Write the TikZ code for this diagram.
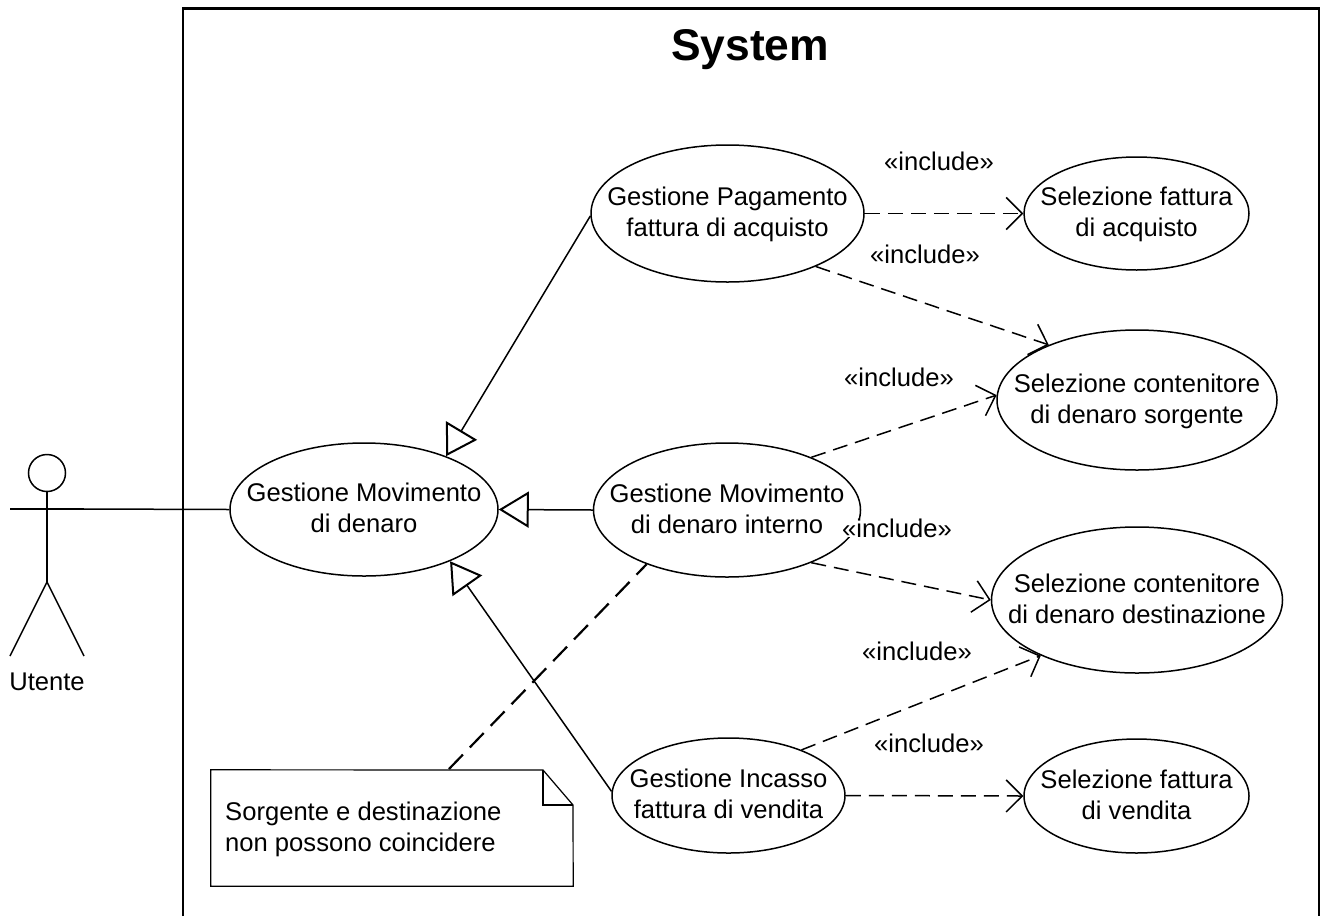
\documentclass[tikz,border=0pt]{standalone}
\usepackage{fontspec}
\setmainfont{Liberation Sans}
\usetikzlibrary{arrows.meta,shapes.geometric}
\newcommand\uctext[1]{\raisebox{-8pt}[0pt][0pt]{\makebox[0pt][c]{\begin{tabular}{@{}c@{}}#1\end{tabular}}}}
\tikzset{
  usecase/.style={draw=black,line width=1.5pt,ellipse,inner sep=0pt,font=\fontsize{25.6}{31}\selectfont},
  gen/.style={line width=1.5pt,-{Triangle[open,length=30pt,width=36pt,line width=2pt,fill=white]}},
  incl/.style={line width=1.5pt,dash pattern=on 15pt off 8pt,-{Straight Barb[length=16pt,width=32pt,line width=1.5pt]}},
  stereo/.style={font=\fontsize{25.6}{31}\selectfont,inner sep=0pt,fill=white},
  notelink/.style={line width=2.2pt,dash pattern=on 20pt off 10pt},
  notebody/.style={line width=1.2pt},
  stick/.style={line width=1.5pt}
}
\begin{document}
\begin{tikzpicture}[x=1pt,y=-1pt]
\useasboundingbox (0,0) rectangle (1324,916);
% System boundary
\coordinate (bl) at (183,916);
\coordinate (tl) at (183,8.5);
\coordinate (tr) at (1319,8.5);
\coordinate (br) at (1319,916);
\draw[line width=2.5pt] (bl) -- (tl) -- (tr) -- (br);
\node[font=\bfseries\fontsize{44.4}{50}\selectfont,inner sep=0pt] (title) at (750,50) {System};
% Use cases
\node[usecase,minimum width=268pt,minimum height=133pt] (gmd) at (364,509.5) {\uctext{Gestione Movimento\\di denaro}};
\node[usecase,minimum width=273pt,minimum height=137pt] (gp) at (727.5,213.5) {\uctext{Gestione Pagamento\\fattura di acquisto}};
\node[usecase,minimum width=225pt,minimum height=113pt] (sfa) at (1136.5,213.5) {\uctext{Selezione fattura\\di acquisto}};
\node[usecase,minimum width=280pt,minimum height=140pt] (scs) at (1137,400) {\uctext{Selezione contenitore\\di denaro sorgente}};
\node[usecase,minimum width=267pt,minimum height=134pt] (gmi) at (727,510) {\uctext{Gestione Movimento\\di denaro interno}};
\node[usecase,minimum width=291pt,minimum height=146pt] (scd) at (1137,600) {\uctext{Selezione contenitore\\di denaro destinazione}};
\node[usecase,minimum width=233pt,minimum height=115pt] (gi) at (728.5,795.5) {\uctext{Gestione Incasso\\fattura di vendita}};
\node[usecase,minimum width=225pt,minimum height=114pt] (sfv) at (1136.5,796) {\uctext{Selezione fattura\\di vendita}};
% Actor
\node[draw=black,stick,circle,minimum size=37pt,inner sep=0pt] (head) at (47,473) {};
\coordinate (hip) at (47,582);
\coordinate (larm) at (10,509);
\coordinate (rarm) at (84,509);
\coordinate (lfoot) at (10,656);
\coordinate (rfoot) at (84,656);
\draw[stick] (head.south) -- (hip);
\draw[stick] (lfoot) -- (hip) -- (rfoot);
\draw[stick] (larm) -- (rarm);
\node[font=\fontsize{25.6}{31}\selectfont,inner sep=0pt] (utente) at (47,682) {Utente};
\draw[stick] (rarm) -- (gmd.west);
% Generalizations
\draw[gen] (gp.181) -- (gmd.33);
\draw[gen] (gmi.west) -- (gmd.east);
\draw[gen] (gi.178) -- (gmd.-31);
% Includes
\draw[incl] (gp.east) -- (sfa.west);
\draw[incl] (gp.-31) -- (scs.148);
\draw[incl] (gmi.32) -- (scs.178);
\draw[incl] (gmi.-32) -- (scd.west);
\draw[incl] (gi.32) -- (scd.210);
\draw[incl] (gi.east) -- (sfv.west);
% Labels
\node[stereo] (l1) at (939,161) {«include»};
\node[stereo] (l2) at (925,254) {«include»};
\node[stereo] (l3) at (899,377) {«include»};
\node[stereo] (l4) at (897,528) {«include»};
\node[stereo] (l5) at (917,651) {«include»};
\node[stereo] (l6) at (929,743) {«include»};
% Note
\node[minimum width=362pt,minimum height=116pt,inner sep=0pt] (note) at (392,828) {};
\coordinate (fold1) at (543,770);
\coordinate (fold2) at (573,805);
\coordinate (fold3) at (543,805);
\coordinate (notelinkpt) at (449,769);
\draw[notebody] (note.north west) -- (fold1) -- (fold2) -- (note.south east) -- (note.south west) -- cycle;
\draw[notebody] (fold1) -- (fold3) -- (fold2);
\node[anchor=west,align=left,inner sep=0pt,font=\fontsize{25.6}{31}\selectfont] (notetext) at (225,829) {Sorgente e destinazione\\non possono coincidere};
\draw[notelink] (notelinkpt) -- (gmi.214);
\end{tikzpicture}
\end{document}
